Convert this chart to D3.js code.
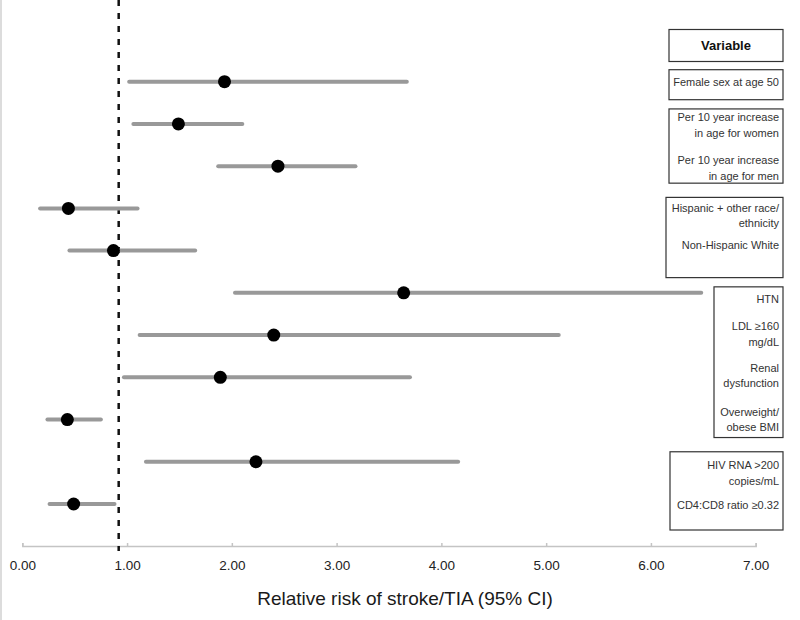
<!DOCTYPE html>
<html>
<head>
<meta charset="utf-8">
<script src="https://cdn.jsdelivr.net/npm/d3@7"></script>
<style>
	body { margin: 0; background: #fff; }
	.c-svg { width: 800px; height: 620px; }
	text { font-family: "Liberation Sans", Arial, sans-serif; }
</style>
</head>
<body>
<div class="c-svg"></div>
<script>
//DATA
//-------------------------------------------------------------------------

const variables = [
	["Female sex at age 50"],
	["Per 10 year increase", "in age for women"],
	["Per 10 year increase", "in age for men"],
	["Hispanic + other race/", "ethnicity"],
	["Non-Hispanic White"],
	["HTN"],
	["LDL \u2265160", "mg/dL"],
	["Renal", "dysfunction"],
	["Overweight/", "obese BMI"],
	["HIV RNA >200", "copies/mL"],
	["CD4:CD8 ratio \u22650.32"]
];

const estimate = [1.93, 1.49, 2.44, 0.44, 0.87, 3.64, 2.40, 1.89, 0.43, 2.23, 0.49];
const lower    = [1.02, 1.06, 1.87, 0.17, 0.45, 2.03, 1.12, 0.97, 0.24, 1.18, 0.26];
const upper    = [3.67, 2.10, 3.18, 1.10, 1.65, 6.48, 5.12, 3.70, 0.75, 4.16, 0.88];

const xTicks = [0, 1, 2, 3, 4, 5, 6, 7];
const refLine = 0.92;

//groups of variables sharing a box (first row, last row)
const groups = [[0, 0], [1, 2], [3, 4], [5, 8], [9, 10]];

//INITIALISATION
//-------------------------------------------------------------------------

const opts = {
	container: ".c-svg",
	width: 800,
	height: 620
};

//box layout per group: left edge, padding above first row, below last row
const boxLayout = [
	{ left: 669, top: 12, bottom: 18 },
	{ left: 669, top: 15, bottom: 17 },
	{ left: 666, top: 11, bottom: 27 },
	{ left: 714, top: 6, bottom: 18 },
	{ left: 670, top: 10, bottom: 26 }
];
//vertical shift of label block relative to its row
const labelShift = [0, 1, 2, 7, -6, 6, -1, -2, 0, 11, 1];
const boxRight = 783;
const lineHeight = 15.5;

const svg = d3.select(opts.container)
	.append("svg")
	.attr("width", opts.width)
	.attr("height", opts.height);

const x = d3.scaleLinear()
	.domain([0, 7])
	.range([22.3, 755.7]);

const y = d3.scalePoint()
	.domain(d3.range(variables.length))
	.range([81.7, 504]);

const data = variables.map((v, i) => ({
	i: i,
	label: v,
	est: estimate[i],
	lo: lower[i],
	hi: upper[i]
}));

//left border
svg.append("line")
	.attr("x1", 1).attr("x2", 1)
	.attr("y1", 0).attr("y2", opts.height)
	.attr("stroke", "#d0d0d0")
	.attr("stroke-width", 1.5);

//AXIS
//-------------------------------------------------------------------------

const axisY = 546;

const xAxis = d3.axisBottom(x)
	.tickValues(xTicks)
	.tickFormat(d3.format(".2f"))
	.tickSizeInner(-3)
	.tickSizeOuter(-3)
	.tickPadding(14);

const gx = svg.append("g")
	.attr("class", "axis x_axis")
	.attr("transform", `translate(0 ${axisY})`)
	.call(xAxis);

gx.select(".domain")
	.attr("stroke", "#c4c4c4")
	.attr("stroke-width", 1.5);

gx.selectAll(".tick line")
	.attr("stroke", "#c4c4c4")
	.attr("stroke-width", 1.5);

gx.selectAll(".tick text")
	.attr("fill", "#222")
	.style("font-size", "13.5px");

svg.append("text")
	.attr("x", 405)
	.attr("y", 605)
	.attr("text-anchor", "middle")
	.attr("fill", "#1a1a1a")
	.style("font-size", "19px")
	.text("Relative risk of stroke/TIA (95% CI)");

//REFERENCE LINE
//-------------------------------------------------------------------------

svg.append("line")
	.attr("x1", x(refLine)).attr("x2", x(refLine))
	.attr("y1", 0).attr("y2", axisY + 5)
	.attr("stroke", "#111")
	.attr("stroke-width", 2.5)
	.attr("stroke-dasharray", "6 7");

//INTERVALS & POINTS
//-------------------------------------------------------------------------

const rows = svg.append("g").attr("class", "rows");

rows.selectAll(".ci")
	.data(data)
	.join("line")
	.attr("class", "ci")
	.attr("x1", d => x(d.lo))
	.attr("x2", d => x(d.hi))
	.attr("y1", d => y(d.i))
	.attr("y2", d => y(d.i))
	.attr("stroke", "#999")
	.attr("stroke-width", 4)
	.attr("stroke-linecap", "round");

rows.selectAll(".pt")
	.data(data)
	.join("circle")
	.attr("class", "pt")
	.attr("cx", d => x(d.est))
	.attr("cy", d => y(d.i))
	.attr("r", 6.5)
	.attr("fill", "#000");

//LABEL BOXES
//-------------------------------------------------------------------------

const boxes = svg.append("g").attr("class", "boxes");

//header box
boxes.append("rect")
	.attr("x", 669).attr("y", 29.5)
	.attr("width", boxRight - 669).attr("height", 32)
	.attr("fill", "none")
	.attr("stroke", "#333")
	.attr("stroke-width", 1.2);

boxes.append("text")
	.attr("x", (669 + boxRight) / 2)
	.attr("y", 50)
	.attr("text-anchor", "middle")
	.attr("fill", "#111")
	.style("font-size", "13px")
	.style("font-weight", "bold")
	.text("Variable");

groups.forEach((gr, k) => {
	const L = boxLayout[k];
	const top = y(gr[0]) - L.top;
	const bottom = y(gr[1]) + L.bottom;
	boxes.append("rect")
		.attr("x", L.left).attr("y", top)
		.attr("width", boxRight - L.left).attr("height", bottom - top)
		.attr("fill", "none")
		.attr("stroke", "#333")
		.attr("stroke-width", 1.2);
});

const labels = svg.append("g").attr("class", "labels");

data.forEach(d => {
	const n = d.label.length;
	const y0 = y(d.i) + labelShift[d.i] - (n - 1) * lineHeight / 2;
	const t = labels.append("text")
		.attr("text-anchor", "end")
		.attr("fill", "#333")
		.style("font-size", "11px");
	d.label.forEach((line, j) => {
		t.append("tspan")
			.attr("x", boxRight - 4)
			.attr("y", y0 + j * lineHeight + 4)
			.text(line);
	});
});
</script>
</body>
</html>
